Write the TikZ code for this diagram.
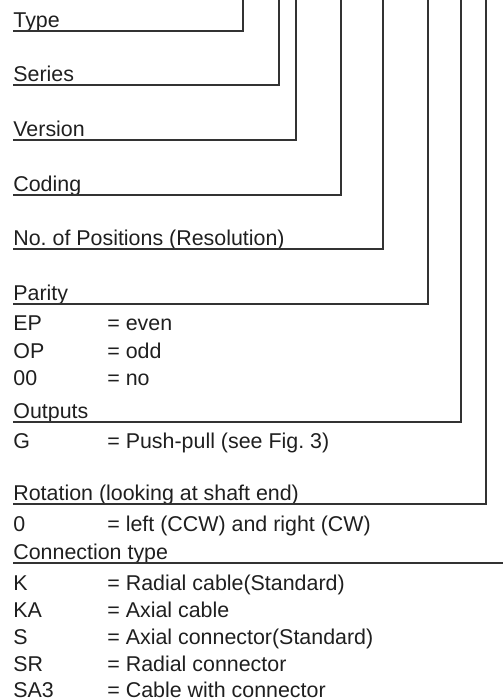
\documentclass[tikz,border=0pt]{standalone}
\usepackage{fontspec}
\setmainfont{Liberation Sans}
\tikzset{
  lbl/.style={anchor=base west,inner sep=0pt,font=\fontsize{10.7}{12}\selectfont\frenchspacing,text=black!88},
  rule/.style={line width=0.6pt,draw=black!80}
}
\begin{document}
\begin{tikzpicture}[x=0.5pt,y=-0.5pt]
\useasboundingbox (0,0) rectangle (503,700);
\pgfmathsetmacro{\lx}{13}
\pgfmathsetmacro{\vx}{107}
\foreach \name/\txt/\y/\x in {type/Type/31/243,series/Series/85/279,version/Version/140/296,coding/Coding/195/341,pos/No. of Positions (Resolution)/249/383,parity/Parity/304/428,outputs/Outputs/422/461,rot/Rotation (looking at shaft end)/504/486}{
  \node[lbl] (\name) at (\lx,\y-3.5) {\txt};
  \coordinate (\name top) at (\x,0);
  \draw[rule] ([yshift=-1.75pt]\name.base west) -| (\name top);
}
\node[lbl] (conn) at (\lx,559.5) {Connection type};
\coordinate (conn end) at (503,563);
\draw[rule] ([yshift=-1.75pt]conn.base west) -- (conn end);
\foreach \name/\code/\val/\y in {ep/EP/= even/330,op/OP/= odd/358,no/00/= no/385,g/G/= Push-pull (see Fig. 3)/448,lr/0/= left (CCW) and right (CW)/531,k/K/= Radial cable(Standard)/590,ka/KA/= Axial cable/617,s/S/= Axial connector(Standard)/644,sr/SR/= Radial connector/671,sa/SA3/= Cable with connector/697}{
  \node[lbl] (\name code) at (\lx,\y) {\code};
  \node[lbl] (\name val) at (\vx,\y) {\val};
}
\end{tikzpicture}
\end{document}
